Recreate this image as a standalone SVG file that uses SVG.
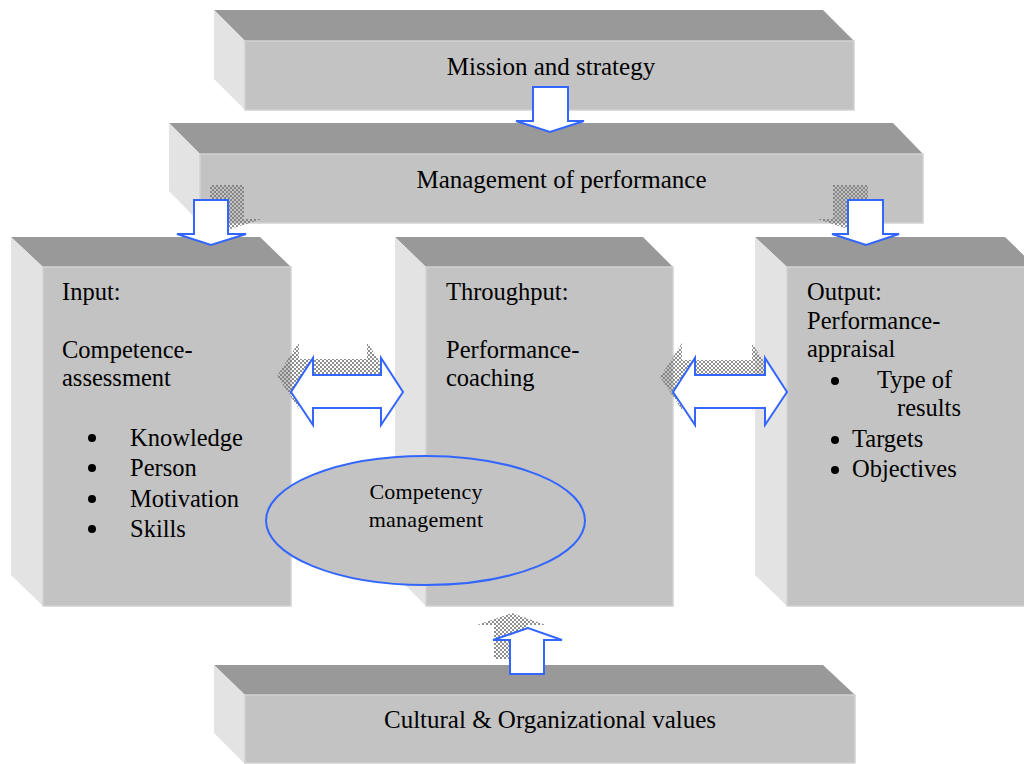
<svg xmlns="http://www.w3.org/2000/svg" width="1024" height="764" viewBox="0 0 1024 764">
<defs>
<pattern id="chk" width="4" height="4" patternUnits="userSpaceOnUse">
<rect x="0" y="0" width="2" height="2" fill="#7a7a7a"/>
<rect x="2" y="2" width="2" height="2" fill="#7a7a7a"/>
</pattern>
<style>
.top{fill:#999999}
.front{fill:#c3c3c3;stroke:#d2d2d2;stroke-width:1.5}
.side{fill:#e3e3e3}
.t{font-family:"Liberation Serif","Times New Roman",serif;font-size:24.5px;fill:#000}
.dot{fill:#000}
.title{font-family:"Liberation Serif","Times New Roman",serif;font-size:25px;fill:#000;text-anchor:middle}
.small{font-family:"Liberation Serif","Times New Roman",serif;font-size:22px;letter-spacing:0.2px;fill:#000;text-anchor:middle}
.arrow{fill:#ffffff;stroke:#3366ff;stroke-width:2;stroke-linejoin:miter}
.shadow{fill:url(#chk);opacity:0.85}
</style>
</defs>
<rect width="1024" height="764" fill="#ffffff"/>

<g id="mission">
<polygon class="top" points="214,10 823,10 854,41 245,41"/>
<polygon class="side" points="214,10 245,41 245,110 214,79"/>
<rect class="front" x="245" y="41" width="609" height="69"/>
<text class="title" x="551" y="75">Mission and strategy</text>
</g>

<g id="management">
<polygon class="top" points="169,123 893,123 923,154 200,154"/>
<polygon class="side" points="169,123 200,154 200,223 169,191"/>
<rect class="front" x="200" y="154" width="723" height="69"/>
<text class="title" x="561.5" y="188">Management of performance</text>
</g>

<g id="input">
<polygon class="top" points="11,237 260,237 291,267 43,267"/>
<polygon class="side" points="11,237 43,267 43,606 11,575"/>
<rect class="front" x="43" y="267" width="248" height="339"/>
<text class="t" x="62" y="300">Input:</text>
<text class="t" x="62" y="358">Competence-</text>
<text class="t" x="62" y="386">assessment</text>
<circle class="dot" cx="92" cy="438" r="4"/>
<text class="t" x="130" y="446">Knowledge</text>
<circle class="dot" cx="92" cy="468" r="4"/>
<text class="t" x="130" y="476">Person</text>
<circle class="dot" cx="92" cy="499" r="4"/>
<text class="t" x="130" y="507">Motivation</text>
<circle class="dot" cx="92" cy="529" r="4"/>
<text class="t" x="130" y="537">Skills</text>
</g>

<g id="throughput">
<polygon class="top" points="395,237 643,237 673,267 426,267"/>
<polygon class="side" points="395,237 426,267 426,606 395,575"/>
<rect class="front" x="426" y="267" width="247" height="339"/>
<text class="t" x="446" y="300">Throughput:</text>
<text class="t" x="446" y="358">Performance-</text>
<text class="t" x="446" y="386">coaching</text>
</g>

<g id="output">
<polygon class="top" points="755,237 1005,237 1036,267 787,267"/>
<polygon class="side" points="755,237 787,267 787,606 755,575"/>
<rect class="front" x="787" y="267" width="249" height="339"/>
<text class="t" x="807" y="300">Output:</text>
<text class="t" x="807" y="329">Performance-</text>
<text class="t" x="807" y="357">appraisal</text>
<circle class="dot" cx="835" cy="381" r="4"/>
<text class="t" x="877" y="388">Type of</text>
<text class="t" x="897" y="416">results</text>
<circle class="dot" cx="835" cy="440" r="4"/>
<text class="t" x="852" y="447">Targets</text>
<circle class="dot" cx="835" cy="470" r="4"/>
<text class="t" x="852" y="477">Objectives</text>
</g>

<g id="values">
<polygon class="top" points="214,665 823,665 855,695 245,695"/>
<polygon class="side" points="214,665 245,695 245,764 214,733"/>
<rect class="front" x="245" y="695" width="610" height="68"/>
<text class="title" x="550" y="728">Cultural &amp; Organizational values</text>
</g>

<g id="connectors">
<path class="shadow" transform="translate(16,-15)" d="M194,200 L228,200 L228,234 L246,234 L211,245 L177,234 L194,234 Z"/>
<path class="shadow" transform="translate(-15,-15)" d="M848,200 L883,200 L883,234 L899,234 L866,245 L832,234 L848,234 Z"/>
<path class="shadow" transform="translate(-14,-16)" d="M291,392 L313,358 L313,375 L381,375 L381,358 L403,392 L381,425 L381,408 L313,408 L313,425 Z"/>
<path class="shadow" transform="translate(-13,-15)" d="M673,392 L695,358 L695,375 L765,375 L765,358 L787,392 L765,425 L765,408 L695,408 L695,425 Z"/>
<path class="shadow" transform="translate(-16,-15)" d="M510,674 L544,674 L544,640 L562,640 L528,628 L493,640 L510,640 Z"/>

<path class="arrow" d="M533,87 L568,87 L568,121 L584,121 L550,132 L516,121 L533,121 Z"/>
<path class="arrow" d="M194,200 L228,200 L228,234 L246,234 L211,245 L177,234 L194,234 Z"/>
<path class="arrow" d="M848,200 L883,200 L883,234 L899,234 L866,245 L832,234 L848,234 Z"/>
<path class="arrow" d="M291,392 L313,358 L313,375 L381,375 L381,358 L403,392 L381,425 L381,408 L313,408 L313,425 Z"/>
<path class="arrow" d="M673,392 L695,358 L695,375 L765,375 L765,358 L787,392 L765,425 L765,408 L695,408 L695,425 Z"/>
<path class="arrow" d="M510,674 L544,674 L544,640 L562,640 L528,628 L493,640 L510,640 Z"/>
</g>

<g id="competency">
<ellipse cx="425.5" cy="520.5" rx="159.5" ry="64.5" fill="#c3c3c3" stroke="#3366ff" stroke-width="2"/>
<text class="small" x="426" y="499">Competency</text>
<text class="small" x="426" y="527">management</text>
</g>
</svg>
